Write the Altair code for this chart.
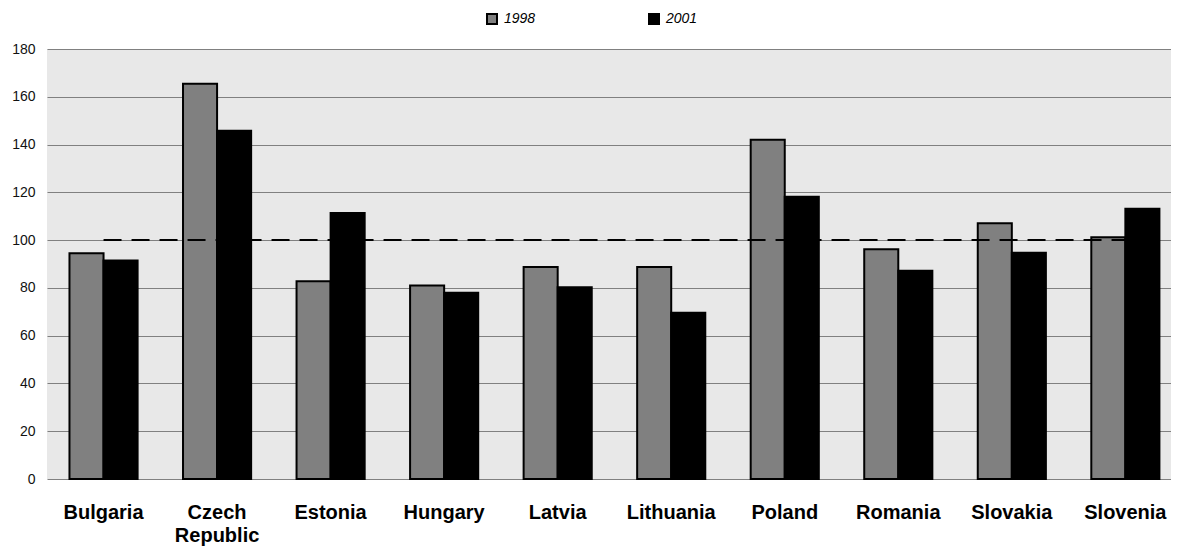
import altair as alt
import pandas as pd

countries = ["Bulgaria", "Czech Republic", "Estonia", "Hungary", "Latvia",
             "Lithuania", "Poland", "Romania", "Slovakia", "Slovenia"]
v1998 = [94.5, 165.5, 82.8, 81.0, 88.7, 88.7, 142.0, 96.2, 107.1, 101.2]
v2001 = [91.5, 145.8, 111.4, 78.0, 80.3, 69.6, 118.1, 87.2, 94.7, 113.1]
years = ["1998", "2001"]
reference = 100
y_ticks = [0, 20, 40, 60, 80, 100, 120, 140, 160, 180]

rows = []
for c, a, b in zip(countries, v1998, v2001):
    rows.append({"country": c, "year": years[0], "value": a})
    rows.append({"country": c, "year": years[1], "value": b})
df = pd.DataFrame(rows)
ref_df = pd.DataFrame({"country": countries, "value": [reference] * len(countries)})

FONT = "Liberation Sans"

x_enc = alt.X(
    "country:N",
    sort=countries,
    scale=alt.Scale(domain=countries, paddingInner=0.4, paddingOuter=0.15, align=0.66),
    axis=alt.Axis(
        title=None, labelAngle=0, labelFont=FONT, labelFontSize=20,
        labelFontWeight="bold", labelColor="black", labelPadding=23,
        labelLineHeight=23, labelExpr="split(datum.label, ' ')",
        ticks=False, domain=False, grid=False, labelLimit=0,
    ),
)
y_enc = alt.Y(
    "value:Q",
    scale=alt.Scale(domain=[0, 180], nice=False, zero=True),
    axis=alt.Axis(
        title=None, values=y_ticks, grid=True, gridColor="#808080",
        gridWidth=1, gridOpacity=1, ticks=False, domain=False,
        labelPadding=12, labelFont=FONT, labelFontSize=14, labelColor="#111111",
    ),
)

bars = alt.Chart(df).mark_bar(stroke="black", strokeWidth=2).encode(
    x=x_enc,
    y=y_enc,
    xOffset=alt.XOffset("year:N", sort=years,
                        scale=alt.Scale(domain=years, paddingInner=0, paddingOuter=0)),
    color=alt.Color(
        "year:N",
        scale=alt.Scale(domain=years, range=["#808080", "#000000"]),
        legend=alt.Legend(
            title=None, orient="none", legendX=438, legendY=-37,
            direction="horizontal", symbolType="square", symbolSize=100,
            symbolStrokeColor="black", symbolStrokeWidth=2,
            labelFont=FONT, labelFontSize=14, labelFontStyle="italic",
            labelOffset=5, columnPadding=109, padding=0, labelColor="black",
        ),
    ),
)

ref_line = alt.Chart(ref_df).mark_line(
    color="black", strokeWidth=2, strokeDash=[18, 10]
).encode(x=x_enc, y=y_enc)

chart = alt.layer(bars, ref_line).properties(
    width=1124,
    height=430,
    autosize=alt.AutoSizeParams(type="none"),
    padding={"left": 39, "top": 41, "right": 0, "bottom": 72},
    background="white",
).configure_view(fill="#E8E8E8", strokeWidth=0)

chart.save("out.html", embed_options={"renderer": "svg", "actions": False})
